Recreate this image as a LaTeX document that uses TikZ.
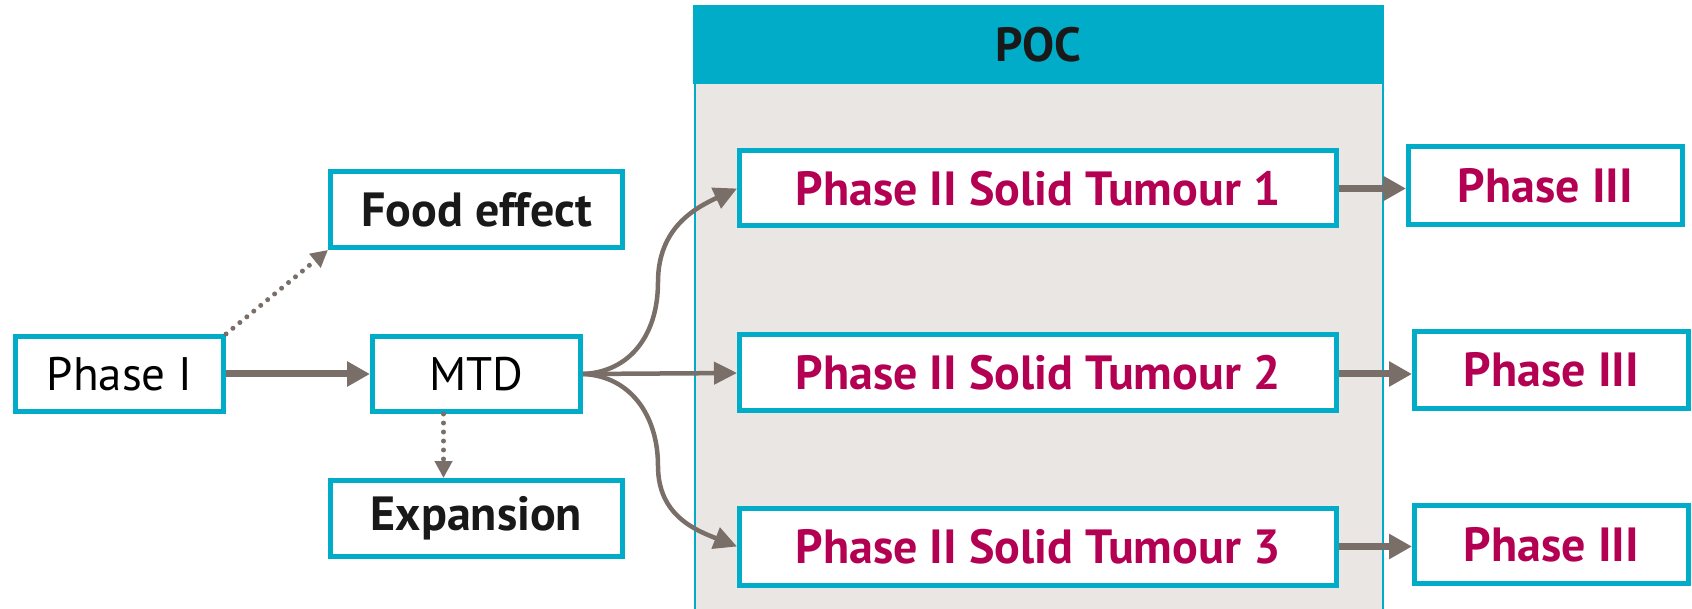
\documentclass[tikz,border=0pt]{standalone}
\usepackage{fontspec}
\setmainfont{PT Sans}
\usetikzlibrary{arrows.meta,calc}
\definecolor{pocteal}{RGB}{0,172,200}
\definecolor{panelgrey}{RGB}{233,230,227}
\definecolor{arrowgrey}{RGB}{122,110,104}
\definecolor{tumourred}{RGB}{180,0,82}
\tikzset{
  box/.style={draw=pocteal, line width=5pt, fill=white, inner sep=0pt,
    minimum height=75pt},
  plain/.style={font=\fontsize{47}{50}\selectfont, text=black},
  boldblack/.style={font=\fontsize{48}{52}\selectfont\bfseries, text=black!90},
  boldred/.style={font=\fontsize{48}{52}\selectfont\bfseries, text=tumourred},
  thick arrow/.style={draw=arrowgrey, line width=7pt,
    -{Triangle[length=23pt,width=24pt]}},
  curve arrow/.style={draw=arrowgrey, line width=4.5pt,
    -{Triangle[length=23pt,width=22pt]}},
  dot arrow/.style={draw=arrowgrey, line width=5pt, line cap=round,
    dash pattern=on 0pt off 9pt,
    -{Triangle[length=17pt,width=17pt]}},
}
\begin{document}
\begin{tikzpicture}[x=1pt, y=-1pt]
\useasboundingbox (0,0) rectangle (1692,609);

% proof-of-concept panel with its header
\node[draw=pocteal, line width=1.5pt, fill=panelgrey, minimum width=688pt,
  minimum height=620pt, anchor=north west, inner sep=0pt] (pocbody) at (694,5) {};
\node[fill=pocteal, minimum width=689.5pt, minimum height=79pt, anchor=north west,
  inner sep=0pt, boldblack] (poc) at (693.25,5) {POC};

% early development boxes
\node[box, plain, minimum width=208pt] (ph1) at (119.5,374) {Phase I};
\node[box, plain, minimum width=208pt] (mtd) at (476.5,374) {MTD};
\node[box, boldblack, minimum width=292pt, minimum height=76pt] (food) at (476.5,209.5) {Food effect};
\node[box, boldblack, minimum width=292pt, minimum height=76pt] (exp) at (476.5,518.5) {Expansion};

% phase II studies
\node[box, boldred, minimum width=597pt] (t1) at (1038,188.5) {Phase II Solid Tumour 1};
\node[box, boldred, minimum width=597pt, minimum height=76pt] (t2) at (1038,373) {Phase II Solid Tumour 2};
\node[box, boldred, minimum width=597pt, minimum height=77pt] (t3) at (1038,546.5) {Phase II Solid Tumour 3};

% phase III studies
\node[box, boldred, minimum width=274pt, minimum height=78pt] (p3a) at (1545.5,185.5) {Phase III};
\node[box, boldred, minimum width=274pt, minimum height=77pt] (p3b) at (1551.5,370) {Phase III};
\node[box, boldred, minimum width=274pt, minimum height=78pt] (p3c) at (1551.5,544.5) {Phase III};

% connectors
\draw[thick arrow] (ph1.east) -- (mtd.west);
\draw[dot arrow] (ph1.north east) -- (food.south west);
\coordinate (mtdfoot) at ([xshift=-33pt]mtd.south);
\draw[dot arrow] (mtdfoot) -- (mtdfoot |- exp.north);

\coordinate (c1) at (658,282);
\coordinate (c3) at (658,466);
\draw[curve arrow] (mtd.east) .. controls (630,372) and (658,335) .. (c1)
  .. controls (658,228) and (695,208) .. (t1.west);
\draw[curve arrow] (mtd.east) -- (t2.west);
\draw[curve arrow] (mtd.east) .. controls (630,376) and (658,415) .. (c3)
  .. controls (658,515) and (695,530) .. (t3.west);

\draw[thick arrow] (t1.east) -- (t1.east -| p3a.west);
\draw[thick arrow] ([yshift=-1pt]t2.east) -- ([yshift=-1pt]t2.east -| p3b.west);
\draw[thick arrow] (t3.east) -- (t3.east -| p3c.west);
\end{tikzpicture}
\end{document}
